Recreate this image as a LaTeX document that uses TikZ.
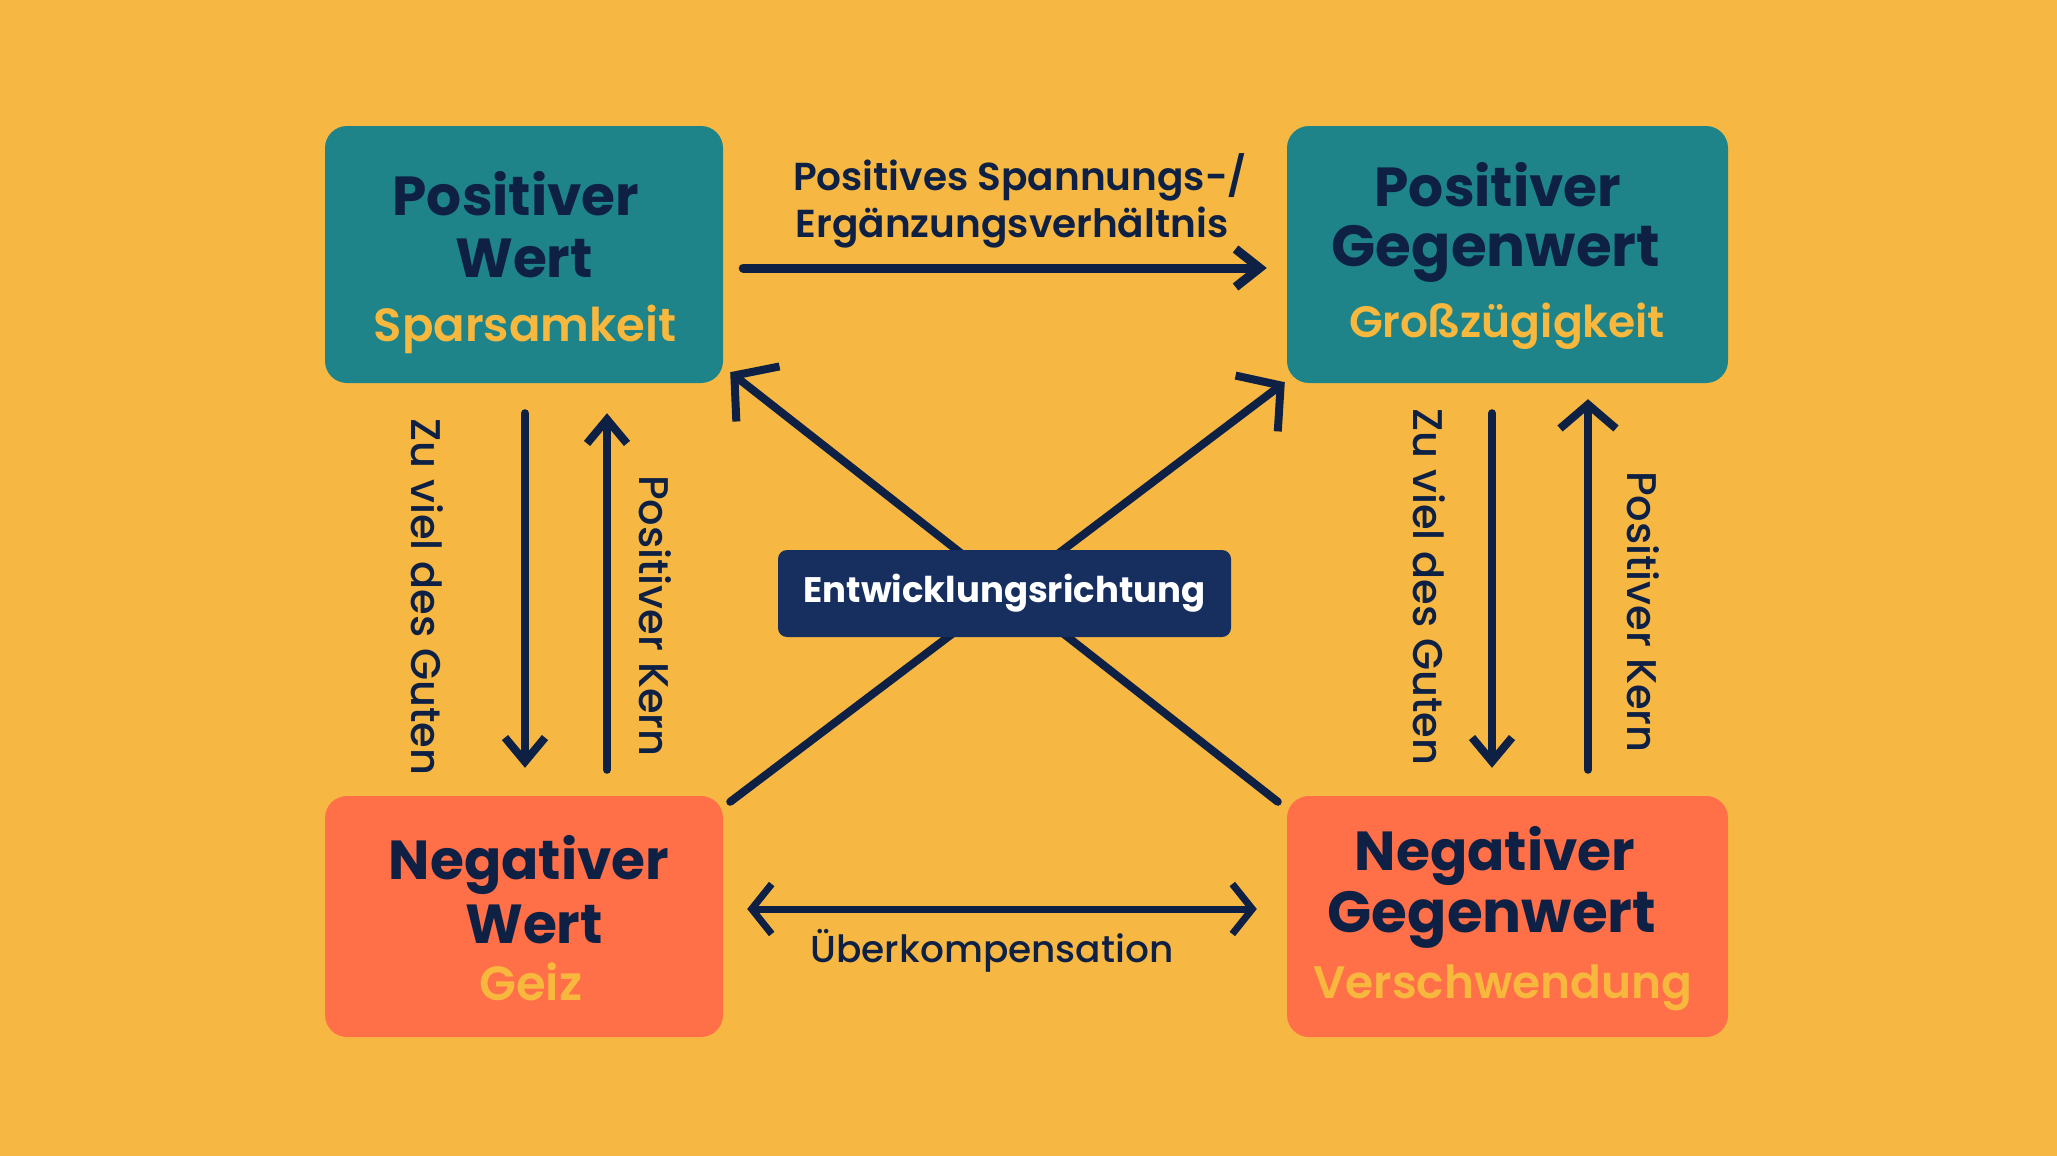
\documentclass[tikz,border=0pt]{standalone}
\usepackage{fontspec}
\setmainfont{Poppins}
\newfontfamily\popmed{Poppins Medium}
\newfontfamily\popsemi{Poppins SemiBold}
\usetikzlibrary{arrows.meta,calc}
\definecolor{bgc}{HTML}{F6B843}
\definecolor{tealc}{HTML}{1E848A}
\definecolor{coralc}{HTML}{FF6F48}
\definecolor{navyc}{HTML}{0F2045}
\definecolor{labc}{HTML}{172F5E}
\definecolor{yelc}{HTML}{F7B83D}
\tikzset{
  posbox/.style={draw=none,fill=tealc,rounded corners=22pt,inner sep=0pt},
  negbox/.style={draw=none,fill=coralc,rounded corners=22pt,inner sep=0pt},
  titletxt/.style={anchor=base,text=navyc,inner sep=0pt,font=\bfseries\fontsize{55}{60}\selectfont},
  subtxt/.style={anchor=base,text=yelc,inner sep=0pt},
  sidetxt/.style={text=navyc,inner sep=0pt,rotate=-90,font=\popmed\fontsize{41.5}{46}\selectfont},
  conn/.style={draw=navyc,line width=9pt,line cap=round,line join=round},
}
\begin{document}
\begin{tikzpicture}[x=1pt,y=-1pt]
\fill[bgc] (0,0) rectangle (2057,1156);
\useasboundingbox (0,0) rectangle (2057,1156);
% boxes
\node[posbox,minimum width=398pt,minimum height=257pt] (pw) at (524,254.5) {};
\node[posbox,minimum width=441pt,minimum height=257pt] (pgw) at (1507.5,254.5) {};
\node[negbox,minimum width=398pt,minimum height=241pt] (nw) at (524,916.5) {};
\node[negbox,minimum width=441pt,minimum height=241pt] (ngw) at (1507.5,916.5) {};
% box texts
\node[titletxt] (pw1) at (516,215) {Positiver};
\node[titletxt] (pw2) at (524,277) {Wert};
\node[subtxt,font=\popsemi\fontsize{46.5}{50}\selectfont] (pw3) at (525,341) {Sparsamkeit};
\node[titletxt] (pgw1) at (1498,206) {Positiver};
\node[titletxt,font=\bfseries\fontsize{58}{62}\selectfont] (pgw2) at (1496,266) {Gegenwert};
\node[subtxt,font=\popsemi\fontsize{44}{48}\selectfont] (pgw3) at (1507,337) {Großzügigkeit};
\node[titletxt] (nw1) at (529,879) {Negativer};
\node[titletxt] (nw2) at (534,943) {Wert};
\node[subtxt,font=\popsemi\fontsize{48}{52}\selectfont] (nw3) at (531,1000) {Geiz};
\node[titletxt] (ngw1) at (1495,870) {Negativer};
\node[titletxt,font=\bfseries\fontsize{58}{62}\selectfont] (ngw2) at (1492,932) {Gegenwert};
\node[subtxt,font=\popsemi\fontsize{45.5}{50}\selectfont] (ngw3) at (1503,998) {Verschwendung};
% diagonals
\draw[conn,line width=8pt,-{Straight Barb[length=30pt,width=70pt]}] ($(nw.north east)+(7,6)$) -- ($(pgw.south west)+(-2,-1)$);
\draw[conn,line width=8pt,-{Straight Barb[length=30pt,width=70pt]}] ($(ngw.north west)+(-9,6)$) -- ($(pw.south east)+(7,-11)$);
% centre label
\node[fill=labc,rounded corners=9pt,minimum width=453pt,minimum height=87pt,inner sep=0pt,text=white,font=\bfseries\fontsize{35.5}{40}\selectfont] (ent) at (1004.5,593.5) {Entwicklungsrichtung};
% top arrow
\draw[conn,-{Straight Barb[length=24pt,width=38pt]}] ($(pw.east)+(20,13.5)$) -- ($(pgw.west)+(-20,13.5)$);
\node[anchor=base,text=navyc,inner sep=0pt,font=\popsemi\fontsize{39}{44}\selectfont] (t1) at (1020,190) {Positives Spannungs-/};
\node[anchor=base,text=navyc,inner sep=0pt,font=\popsemi\fontsize{39}{44}\selectfont] (t2) at (1012,237) {Ergänzungsverhältnis};
% vertical arrows left
\draw[conn,line width=8pt,-{Straight Barb[length=24pt,width=40pt]}] ($(pw.south)+(1,30)$) -- ($(nw.north)+(1,-28)$);
\draw[conn,line width=8pt,-{Straight Barb[length=24pt,width=40pt]}] ($(nw.north)+(83,-26)$) -- ($(pw.south)+(83,30)$);
\node[sidetxt] (l1) at (427,597) {Zu viel des Guten};
\node[sidetxt] (l2) at (655,616) {Positiver Kern};
% vertical arrows right
\draw[conn,line width=8pt,-{Straight Barb[length=24pt,width=40pt]}] ($(pgw.south)+(-15.5,30)$) -- ($(ngw.north)+(-15.5,-28)$);
\draw[conn,line width=8pt,-{Straight Barb[length=24pt,width=56pt]}] ($(ngw.north)+(80.5,-26)$) -- ($(pgw.south)+(80.5,16)$);
\node[sidetxt] (r1) at (1429,587) {Zu viel des Guten};
\node[sidetxt] (r2) at (1643,612) {Positiver Kern};
% bottom double arrow
\draw[conn,line width=7pt,{Straight Barb[length=20pt,width=50pt]}-{Straight Barb[length=20pt,width=50pt]}] ($(nw.east)+(24,-7.5)$) -- ($(ngw.west)+(-30,-7.5)$);
\node[anchor=base,text=navyc,inner sep=0pt,font=\popmed\fontsize{37.5}{42}\selectfont] (b1) at (992,962) {Überkompensation};
\end{tikzpicture}
\end{document}
